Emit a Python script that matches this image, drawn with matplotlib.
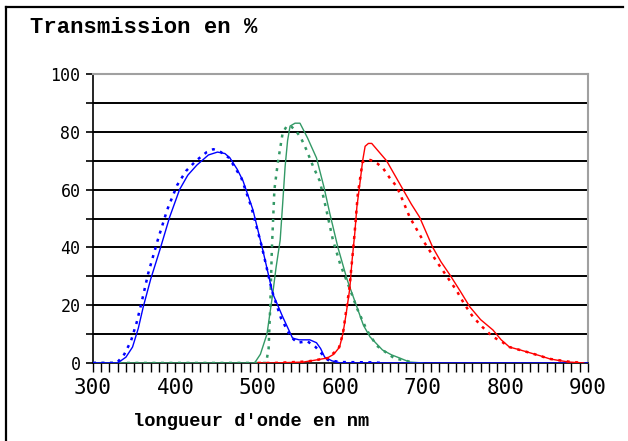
import matplotlib
matplotlib.use("Agg")
import matplotlib.pyplot as plt
from matplotlib.ticker import MultipleLocator
from matplotlib.lines import Line2D

# wavelength (nm) / transmission (%)
blue_nm = [300, 330, 340, 348, 355, 361, 370, 381, 393, 405, 415, 426, 440, 451, 460, 466,
           475, 482, 494, 506, 518, 530, 542, 550, 563, 571, 576, 581, 590, 600, 900]
blue_t = [0, 0, 2, 5.5, 12, 19.4, 29, 39, 50.5, 60, 65, 68.5, 72, 73, 72.5, 71,
          67, 63, 53, 39, 24, 16, 8.6, 8, 8, 7, 5, 2, 0.7, 0, 0]

blue2_nm = [300, 329, 338, 346, 353, 359, 367, 378, 390, 402, 413, 425, 438, 446, 455, 465,
            480, 492, 505, 517, 528, 540, 548, 560, 570, 578, 585, 600, 640, 650]
blue2_t = [0, 0, 3, 7.5, 14, 21, 31, 42, 53, 61.5, 66.5, 70, 73, 74, 73, 71,
           64, 54, 40, 25, 15.5, 9, 7, 7.5, 5.5, 3, 1, 0.3, 0.2, 0]

green_nm = [300, 496, 503, 511, 518, 522, 527, 530, 533, 536, 539, 545, 551, 560, 571, 580,
            587, 597, 608, 620, 628, 636, 651, 662, 672, 684, 700]
green_t = [0, 0, 3, 10, 24, 33, 42.5, 55, 68, 77, 82, 83, 83, 78, 71, 61,
           52, 40, 29, 19.4, 13, 9, 4.5, 2.8, 1.7, 0.3, 0]

green2_nm = [300, 510, 513, 515, 517, 520, 524, 530, 535, 540, 547, 552, 559, 567, 575, 583,
             591, 600, 611, 620, 632, 644, 656, 666, 676, 690]
green2_t = [0, 0, 5, 20, 40, 60, 69, 79.6, 82, 82, 80, 78, 73.7, 68, 63, 53,
            42.5, 34, 26, 19, 11.4, 6, 3.5, 1.5, 1, 0]

red_nm = [500, 520, 555, 570, 584, 592, 599, 603, 607, 611.5, 614, 617.5, 620, 623.6, 627, 630,
          634, 638, 647, 656, 666, 676, 686, 696, 712, 722, 733, 745, 757, 770, 785, 795,
          805, 818, 830, 842, 854, 866, 878, 895]
red_t = [0, 0, 0.3, 1, 1.7, 3, 5.5, 10, 17, 26, 35, 45, 54, 62, 70, 75,
         76, 76, 73, 70, 65, 60, 55, 50.5, 40, 35, 30.4, 25, 19.4, 15, 11.4, 8,
         5.5, 4.5, 3.5, 2.5, 1.4, 0.8, 0.3, 0]

red2_nm = [500, 520, 560, 585, 598, 603, 611, 617, 621, 625, 627, 633, 639, 645, 651.5, 660,
           668.5, 676, 684, 700, 717, 729, 741, 750, 760.6, 772, 785, 795, 805, 830, 854, 878, 895]
red2_t = [0, 0, 0.5, 1.7, 5, 10, 26, 44, 58, 66, 69.6, 70.5, 70, 69, 67.5, 64,
          61, 56, 50.5, 42.5, 35, 30, 25, 20.5, 16, 12.5, 9, 7.5, 5.5, 3.5, 1.4, 0.4, 0]

x_labels = ["300", "400", "500", "600", "700", "800", "900"]
y_labels = ["0", "20", "40", "60", "80", "100"]

c_blue = "#0000ff"
c_green = "#339966"
c_red = "#ff0000"
dots = (0, (1.2, 2.2))

fig = plt.figure(figsize=(6.28, 4.41), dpi=100)
ax = fig.add_axes([0.148, 0.177, 0.788, 0.655])

for v in range(10, 100, 10):
    ax.axhline(v, color="black", lw=1.4, zorder=1)

ax.plot(green_nm, green_t, color=c_green, lw=1.0, zorder=3)
ax.plot(green2_nm, green2_t, color=c_green, lw=1.8, ls=dots, zorder=3)
ax.plot(blue_nm, blue_t, color=c_blue, lw=1.0, zorder=4)
ax.plot(blue2_nm, blue2_t, color=c_blue, lw=1.8, ls=dots, zorder=4)
ax.plot(red_nm, red_t, color=c_red, lw=1.0, zorder=5)
ax.plot(red2_nm, red2_t, color=c_red, lw=1.8, ls=dots, zorder=5)

ax.set_xlim(300, 900)
ax.set_ylim(0, 100)
ax.set_xticks([int(s) for s in x_labels])
ax.set_xticklabels(x_labels, family="DejaVu Sans Mono", fontsize=15)
ax.set_yticks([int(s) for s in y_labels])
ax.set_yticklabels(y_labels, family="DejaVu Sans Mono", fontsize=12)
ax.xaxis.set_minor_locator(MultipleLocator(10))
ax.yaxis.set_minor_locator(MultipleLocator(10))
ax.tick_params(axis="x", which="both", direction="out", length=6.5, width=1.0, pad=4)
ax.tick_params(axis="y", which="both", direction="out", length=5, width=1.2, pad=4)

ax.spines["left"].set_linewidth(1.2)
ax.spines["bottom"].set_linewidth(1.2)
ax.spines["top"].set_color("#a0a0a0")
ax.spines["right"].set_color("#a0a0a0")
ax.spines["top"].set_linewidth(1.5)
ax.spines["right"].set_linewidth(1.5)

fig.text(0.048, 0.937, "Transmission en %", family="Liberation Mono", weight="bold",
         fontsize=16, ha="left", va="center")
fig.text(0.40, 0.045, "longueur d'onde en nm", family="Liberation Mono", weight="bold",
         fontsize=13.5, ha="center", va="center")

# frame of the original screenshot (top and left edges only)
fig.add_artist(Line2D([6 / 628, 623 / 628], [1 - 7 / 441, 1 - 7 / 441],
                      transform=fig.transFigure, color="black", lw=1.6))
fig.add_artist(Line2D([6 / 628, 6 / 628], [1 - 7 / 441, 0],
                      transform=fig.transFigure, color="black", lw=1.6))

fig.savefig("out.png", dpi=100)
